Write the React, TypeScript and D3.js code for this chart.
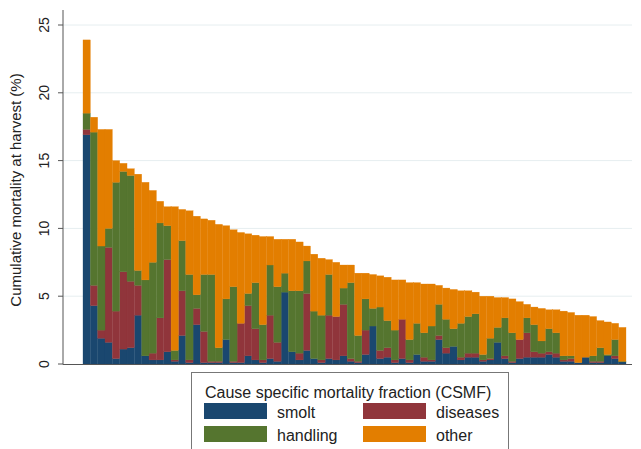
import React from 'react';
import * as d3 from 'd3';

// farms sorted by cumulative mortality, stacked cause fractions (%)
const smolt = [
  16.9, 4.3, 1.9, 1.6, 0.4, 1.1, 1.2, 3.6, 0.6, 0.3,
  0.3, 0.9, 0.2, 2.1, 0.1, 2.9, 0.1, 0.1, 0.1, 1.8,
  0.1, 0.1, 0.6, 0.3, 0.1, 0.4, 0.2, 5.3, 0.9, 0.3,
  1.0, 0.4, 0.1, 0.4, 0.3, 0.6, 0.2, 0.1, 0.7, 2.8,
  0.4, 0.5, 0.1, 0.4, 0.1, 0.7, 0.2, 0.2, 1.8, 0.8,
  1.3, 0.3, 0.5, 0.5, 0.2, 0.3, 1.6, 0.4, 0.1, 0.4,
  0.5, 0.5, 0.5, 0.7, 0.5, 0.2, 0.2, 0.1, 0.5, 0.1,
  0.1, 0.6, 0.4, 0.15,
];
const diseases = [
  0.4, 1.5, 0.6, 7.0, 3.5, 5.7, 4.9, 2.2, 0, 0.5,
  3.1, 6.8, 0.1, 3.3, 0.2, 1.2, 2.3, 0.1, 0.1, 0,
  0.1, 2.9, 3.7, 2.3, 0.2, 3.2, 1.4, 0, 0, 0.5,
  4.2, 0, 0.2, 3.2, 3.2, 3.8, 0.2, 0.1, 1.8, 0,
  0.6, 0.7, 0.2, 2.9, 0.2, 0, 0.3, 0.1, 0.3, 0.4,
  0, 0.2, 0.3, 0.3, 0.1, 0.1, 0, 0.2, 0.1, 1.4,
  1.8, 0.4, 0.3, 0.2, 0.3, 0.1, 0.2, 0, 0, 0.1,
  0.1, 0, 0.2, 0,
];
const handling = [
  1.2, 11.3, 6.2, 1.4, 9.5, 7.4, 7.8, 1.1, 5.6, 6.7,
  7.0, 2.5, 0.7, 3.7, 6.3, 1.0, 4.2, 6.4, 1.0, 3.0,
  5.5, 0, 0.9, 3.4, 2.6, 3.7, 4.1, 1.4, 4.5, 4.6,
  2.4, 3.5, 3.3, 3.0, 0, 1.2, 5.6, 1.9, 2.3, 1.3,
  3.2, 2.0, 2.2, 0, 1.5, 2.3, 1.8, 2.5, 2.3, 2.1,
  1.3, 2.5, 2.7, 2.9, 0.4, 1.5, 1.1, 2.8, 2.1, 0,
  1.1, 2.0, 0.9, 1.7, 1.5, 0.3, 0.2, 0, 0, 0.4,
  1.0, 0.1, 1.2, 0.05,
];
const other = [
  5.4, 1.1, 8.6, 7.3, 1.6, 0.6, 0.5, 7.1, 7.2, 5.3,
  1.6, 1.4, 10.6, 2.3, 4.7, 5.8, 4.1, 4.0, 9.1, 5.4,
  4.2, 6.7, 4.4, 3.5, 6.5, 2.1, 3.5, 2.5, 3.8, 3.6,
  1.1, 4.2, 4.2, 1.1, 4.0, 1.7, 1.3, 4.6, 1.9, 2.5,
  2.3, 3.2, 3.7, 2.9, 4.2, 3.0, 3.6, 3.1, 1.4, 2.3,
  2.9, 2.4, 1.9, 1.6, 4.3, 3.1, 2.2, 1.5, 2.5, 2.8,
  1.0, 1.3, 2.4, 1.4, 1.7, 3.3, 3.2, 3.5, 3.1, 2.9,
  2.0, 2.4, 1.2, 2.5,
];
const yTicks = [0, 5, 10, 15, 20, 25];

const keys = ['smolt', 'diseases', 'handling', 'other'];
const colors = {
  smolt: '#1a476f',
  diseases: '#90353b',
  handling: '#55752f',
  other: '#e37e00',
};

const farms = smolt.map((_, i) => ({
  farm: String(i + 1),
  smolt: smolt[i],
  diseases: diseases[i],
  handling: handling[i],
  other: other[i],
}));

const App = () => {
  const width = 641;
  const height = 449;
  const axisX = 63;
  const plotRight = 632;
  const font = '"Liberation Sans", Arial, sans-serif';

  const x = d3
    .scaleBand()
    .domain(farms.map((d) => d.farm))
    .range([83, 626])
    .padding(0);
  const y = d3.scaleLinear().domain([0, 25]).range([364, 25]);
  const layers = d3.stack().keys(keys)(farms as any);

  const legendItems = [
    { key: 'smolt', x: 204, y: 403 },
    { key: 'diseases', x: 363, y: 403 },
    { key: 'handling', x: 204, y: 426 },
    { key: 'other', x: 363, y: 426 },
  ];

  return (
    <div style={{ position: 'absolute', left: 0, top: 0 }}>
      <svg width={width} height={height} style={{ display: 'block', background: '#fff' }}>
        {/* grid */}
        {yTicks.slice(1).map((t) => (
          <line key={t} x1={axisX} x2={plotRight} y1={y(t)} y2={y(t)} stroke="#e6eef0" strokeWidth={1} />
        ))}

        {/* bars */}
        {layers.map((layer) => (
          <g key={layer.key} fill={colors[layer.key]}>
            {layer.map((seg, i) => (
              <rect
                key={i}
                x={x(seg.data.farm)}
                width={x.bandwidth()}
                y={y(seg[1])}
                height={Math.max(0, y(seg[0]) - y(seg[1]))}
                stroke={colors[layer.key]}
                strokeWidth={0.3}
              />
            ))}
          </g>
        ))}

        {/* axes */}
        <line x1={axisX} x2={axisX} y1={10} y2={364.5} stroke="#555" strokeWidth={1} />
        <line x1={axisX} x2={plotRight} y1={364.5} y2={364.5} stroke="#555" strokeWidth={1} />
        {yTicks.map((t) => (
          <g key={t}>
            <line x1={axisX - 5} x2={axisX} y1={y(t)} y2={y(t)} stroke="#555" strokeWidth={1} />
            <text
              transform={`translate(${49},${y(t)}) rotate(-90)`}
              textAnchor="middle"
              fontFamily={font}
              fontSize={14}
              fill="#222"
            >
              {t}
            </text>
          </g>
        ))}
        <text
          transform={`translate(21,190) rotate(-90)`}
          textAnchor="middle"
          fontFamily={font}
          fontSize={15}
          fill="#222"
        >
          Cumulative mortality at harvest (%)
        </text>

        {/* legend */}
        <rect x={191.5} y={372.5} width={317} height={90} fill="#fff" stroke="#777" strokeWidth={1} />
        <text x={205} y={398} fontFamily={font} fontSize={16} fill="#222">
          Cause specific mortality fraction (CSMF)
        </text>
        {legendItems.map((it) => (
          <g key={it.key}>
            <rect x={it.x} y={it.y} width={63} height={16} fill={colors[it.key]} />
            <text x={it.x + 73} y={it.y + 15} fontFamily={font} fontSize={16} fill="#222">
              {it.key}
            </text>
          </g>
        ))}
      </svg>
    </div>
  );
};

export default App;
